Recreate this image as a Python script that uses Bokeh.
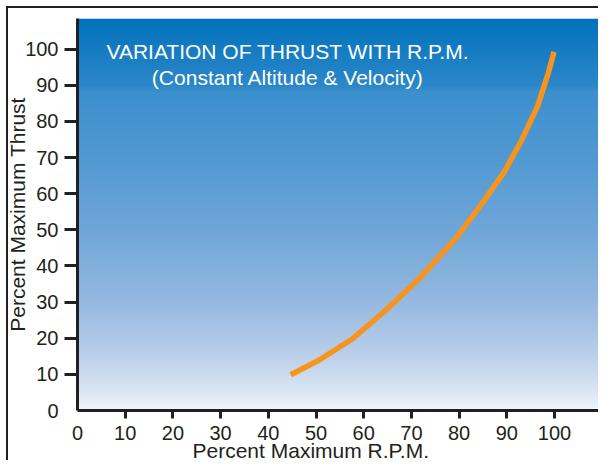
import numpy as np
from bokeh.plotting import figure
from bokeh.models import Range1d, FixedTicker, Label, Title
from bokeh.embed import file_html
from bokeh.resources import INLINE

# ---- data ----
rpm = [44.7, 50.6, 57.6, 64.5, 71.5, 79.4, 84.6, 89.5, 93.3, 96.5, 98.75, 99.9]
thrust = [9.9, 13.9, 19.8, 27.6, 36.3, 47.8, 56.9, 66.1, 75.3, 84.4, 93.6, 99.3]
x_ticks = [0, 10, 20, 30, 40, 50, 60, 70, 80, 90, 100]
y_ticks = [0, 10, 20, 30, 40, 50, 60, 70, 80, 90, 100]
title_lines = ["VARIATION OF THRUST WITH R.P.M.", "(Constant Altitude & Velocity)"]
x_label = "Percent Maximum R.P.M."
y_label = "Percent Maximum Thrust"

# ---- layout (picture coordinates) ----
W, H = 598, 460
FRAME_L, FRAME_T, FRAME_B = 77, 18, 410
ML, MT = FRAME_L, FRAME_T
FH = FRAME_B - FRAME_T
MB = H - MT - FH
FW = W - ML
KX = 4.77
X_END = FW / KX
Y_END = 108.5
KY = FH / Y_END

INK = "#231f20"
FONT = "Liberation Sans"

# outer frame lines (top and left) drawn behind a transparent canvas border
p = figure(width=W, height=H, output_backend="svg", toolbar_location=None,
           x_range=Range1d(0, X_END), y_range=Range1d(0, Y_END),
           min_border_left=ML, min_border_top=MT, min_border_bottom=MB,
           min_border_right=0,
           styles={"background-color": "white",
                   "background-image": f"linear-gradient({INK}, {INK}), linear-gradient({INK}, {INK})",
                   "background-size": "100% 2px, 2px 100%",
                   "background-position": "6px 6px, 6px 6px",
                   "background-repeat": "no-repeat, no-repeat"})
p.outline_line_color = None
p.grid.visible = False
p.background_fill_color = "white"
p.border_fill_color = None
p.border_fill_alpha = 0

# ---- gradient background ----
stops_px = [18, 85, 90, 160, 230, 300, 350, 390, 410]
stops_col = ["#0072BC", "#2C87C8", "#3A8FCD", "#5299D2", "#6FA6D8",
             "#95B8E0", "#B6CDE9", "#DAE5F3", "#F3F6FB"]
N = 400
rows_y = (np.arange(N) + 0.5) / N * Y_END
rows_px = FRAME_B - rows_y * KY
def ch(c, i):
    return int(c[1 + 2 * i:3 + 2 * i], 16)
img = np.zeros((N, 1), dtype=np.uint32)
view = img.view(dtype=np.uint8).reshape((N, 1, 4))
for i in range(3):
    view[:, 0, i] = np.interp(rows_px, stops_px, [ch(c, i) for c in stops_col]).round().astype(np.uint8)
view[:, 0, 3] = 255
p.image_rgba(image=[img], x=0, y=0, dw=X_END, dh=Y_END)

# ---- curve ----
p.line(rpm, thrust, line_color="#F7941D", line_width=5.5, line_cap="butt", line_join="round")

# ---- axes ----
for ax in (p.xaxis[0], p.yaxis[0]):
    ax.axis_line_width = 3
    ax.axis_line_color = INK
    ax.major_tick_line_color = None
    ax.minor_tick_line_width = 3
    ax.minor_tick_line_color = INK
    ax.minor_tick_in = 0
    ax.major_tick_in = 0
    ax.major_label_text_font = FONT
    ax.major_label_text_font_size = "20px"
    ax.major_label_text_color = INK
p.xaxis.ticker = FixedTicker(ticks=x_ticks, minor_ticks=x_ticks[1:])
p.yaxis.ticker = FixedTicker(ticks=y_ticks, minor_ticks=y_ticks[1:])
p.xaxis.major_tick_out = 8
p.xaxis.minor_tick_out = 8
p.xaxis.major_label_standoff = 7
p.yaxis.major_tick_out = 13
p.yaxis.minor_tick_out = 13
p.yaxis.major_label_standoff = 6

p.yaxis.axis_label = y_label
p.yaxis.axis_label_text_font = FONT
p.yaxis.axis_label_text_font_size = "21px"
p.yaxis.axis_label_text_font_style = "normal"
p.yaxis.axis_label_text_color = INK
p.yaxis.axis_label_standoff = -7

p.add_layout(Title(text=x_label, align="left", offset=115, standoff=-12,
                   text_font=FONT, text_font_size="21px", text_font_style="normal",
                   text_color=INK), "below")

# ---- chart title inside the plot ----
for txt, yy in zip(title_lines, [99.5, 92.3]):
    p.add_layout(Label(x=44.1, y=yy, text=txt, text_align="center",
                       text_baseline="alphabetic", text_font=FONT, text_font_size="21px",
                       text_color="white"))

open("out.html", "w").write(file_html(p, INLINE))
